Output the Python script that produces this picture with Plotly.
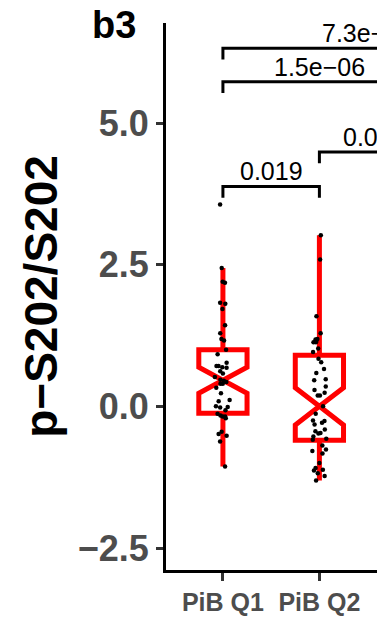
import plotly.graph_objects as go

# x categories (only the first two groups fall inside the visible range)
groups = ["PiB Q1", "PiB Q2", "PiB Q3", "PiB Q4"]

# per-sample p-S202/S202 values, drawn as jittered dots
pib_q1 = [3.56, 2.44, 2.20, 2.18, 1.83, 1.81, 1.72, 1.43, 1.29, 1.19, 1.16, 1.00,
          0.92, 0.77, 0.71, 0.71, 0.69, 0.68, 0.62, 0.58, 0.52, 0.47, 0.45, 0.43,
          0.40, 0.40, 0.33, 0.23, 0.11, 0.09, 0.00, -0.01, -0.02, -0.07, -0.13,
          -0.16, -0.18, -0.18, -0.21, -0.45, -0.49, -0.52, -0.62, -1.06]
pib_q2 = [3.02, 2.59, 1.59, 1.29, 1.19, 1.18, 1.15, 1.13, 1.13, 1.02, 0.96, 0.84,
          0.78, 0.66, 0.59, 0.48, 0.46, 0.35, 0.29, 0.24, 0.19, 0.19, 0.00, -0.13,
          -0.25, -0.26, -0.29, -0.32, -0.41, -0.44, -0.47, -0.48, -0.53, -0.57,
          -0.59, -0.69, -0.76, -0.79, -0.83, -1.00, -1.09, -1.12, -1.13, -1.18,
          -1.23, -1.31]

# notched box summaries
box_groups = ["PiB Q1", "PiB Q2"]
box_q1 = [-0.12, -0.60]
box_median = [0.46, 0.00]
box_q3 = [1.00, 0.90]
box_lower = [-1.06, -1.31]
box_upper = [2.44, 3.02]
box_notch = [0.23, 0.33]

# pairwise comparison brackets with their p-values
cmp_from = ["PiB Q1", "PiB Q2", "PiB Q1", "PiB Q1"]
cmp_to = ["PiB Q2", "PiB Q3", "PiB Q3", "PiB Q4"]
cmp_y = [3.88, 4.49, 5.73, 6.32]
cmp_label = ["0.019", "0.04", "1.5e\u221206", "7.3e\u221208"]
tip_len = 0.2

FONT = "Liberation Sans, Arial, Helvetica, sans-serif"
RED = "#FF0000"

fig = go.Figure()

# red notched boxes, no whisker caps
fig.add_trace(go.Box(
    x=box_groups, q1=box_q1, median=box_median, q3=box_q3,
    lowerfence=box_lower, upperfence=box_upper, notchspan=box_notch,
    notched=True, notchwidth=0.5, width=0.5, whiskerwidth=0,
    boxpoints=False, line=dict(color=RED, width=5),
    fillcolor="rgba(255,255,255,0)", hoverinfo="skip", showlegend=False,
))

# jittered sample points (box outline hidden)
pts_x = [groups[0]] * len(pib_q1) + [groups[1]] * len(pib_q2)
pts_y = pib_q1 + pib_q2
fig.add_trace(go.Box(
    x=pts_x, y=pts_y, boxpoints="all", jitter=0.4, pointpos=0, width=0.5,
    line=dict(color="rgba(0,0,0,0)", width=0), fillcolor="rgba(0,0,0,0)",
    marker=dict(color="black", size=4.5), hoverinfo="skip", showlegend=False,
))

# significance brackets
for a, b, yv, lab in zip(cmp_from, cmp_to, cmp_y, cmp_label):
    fig.add_trace(go.Scatter(
        x=[a, a, b, b], y=[yv - tip_len, yv, yv, yv - tip_len],
        mode="lines", line=dict(color="black", width=3),
        hoverinfo="skip", showlegend=False,
    ))
    mid = (groups.index(a) + groups.index(b)) / 2
    fig.add_annotation(
        x=mid, y=yv, xref="x", yref="y", text=lab, showarrow=False,
        yanchor="bottom", xanchor="center", yshift=-1,
        font=dict(family=FONT, size=25, color="black"),
    )

fig.update_layout(
    width=377, height=617,
    margin=dict(l=166, r=0, t=23, b=47),
    paper_bgcolor="white", plot_bgcolor="white",
    boxmode="overlay",
    title=dict(
        text="<b>b3</b>", x=92 / 377, xanchor="left", xref="container",
        y=1 - 25 / 617, yanchor="middle", yref="container",
        font=dict(family=FONT, size=38, color="black"),
    ),
    xaxis=dict(
        type="category", categoryorder="array", categoryarray=groups,
        range=[-0.59, 1.597], showgrid=False, zeroline=False,
        showline=True, linecolor="black", linewidth=3,
        ticks="outside", ticklen=8, tickwidth=3, tickcolor="#333333",
        tickfont=dict(family=FONT, size=25, color="#4D4D4D", weight="bold"),
    ),
    yaxis=dict(
        range=[-2.888, 6.765], tick0=0, dtick=2.5, tickformat=".1f",
        showgrid=False, zeroline=False,
        showline=True, linecolor="black", linewidth=3,
        ticks="outside", ticklen=7, tickwidth=3, tickcolor="#333333",
        tickfont=dict(family=FONT, size=36, color="#4D4D4D", weight="bold"),
        title=dict(text="<b>p\u2212S202/S202</b>", standoff=6,
                   font=dict(family=FONT, size=46, color="black")),
    ),
)

fig.write_html("out.html")
